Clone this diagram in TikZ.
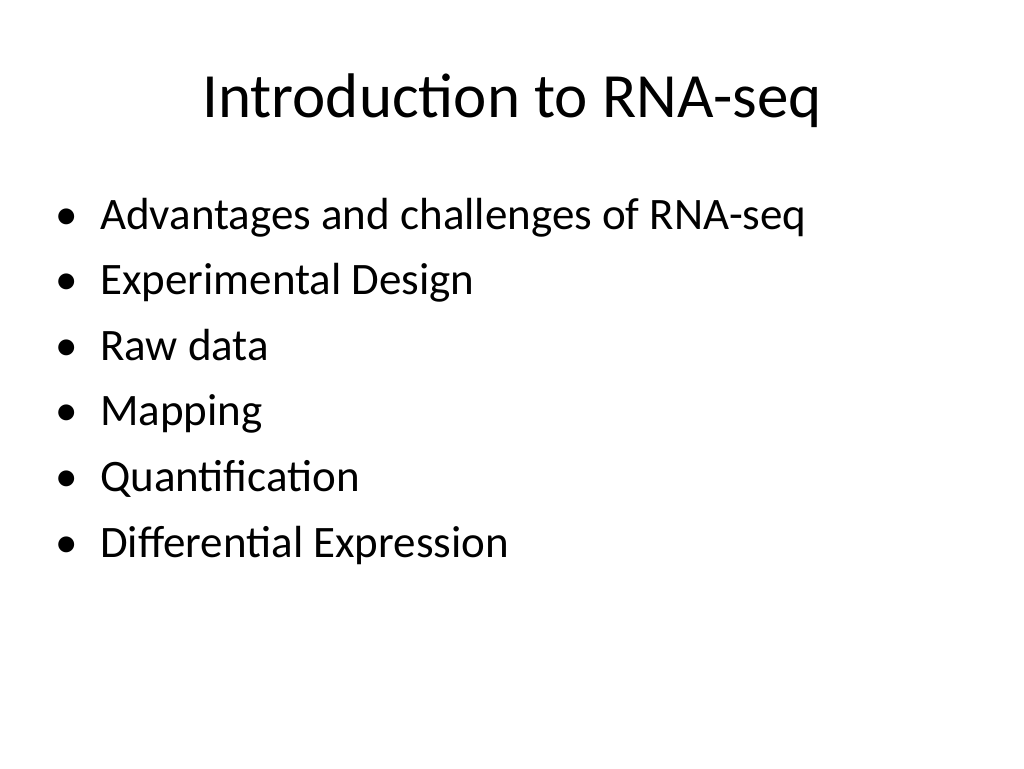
\documentclass[tikz,border=0pt]{standalone}
\usepackage{fontspec}
\setmainfont{Carlito}
\begin{document}
\begin{tikzpicture}[x=1pt,y=-1pt,
  item/.style={anchor=base west,inner sep=0pt,font=\fontsize{45}{54}\selectfont},
  bul/.style={anchor=base,inner sep=0pt,font=\fontsize{45}{54}\selectfont}]
\useasboundingbox[fill=white] (0,0) rectangle (1024,768);
\node[anchor=base,inner sep=0pt,font=\fontsize{63}{75}\selectfont] (title) at (512,117) {Introduction to RNA-seq};
\foreach \t [count=\i] in {Advantages and challenges of RNA-seq,Experimental Design,Raw data,Mapping,Quantification,Differential Expression}{
  \node[bul] (b\i) at (67,{229+65.6*(\i-1)}) {\textbullet};
  \node[item] (t\i) at (100,{229+65.6*(\i-1)}) {\t};
}
\end{tikzpicture}
\end{document}
